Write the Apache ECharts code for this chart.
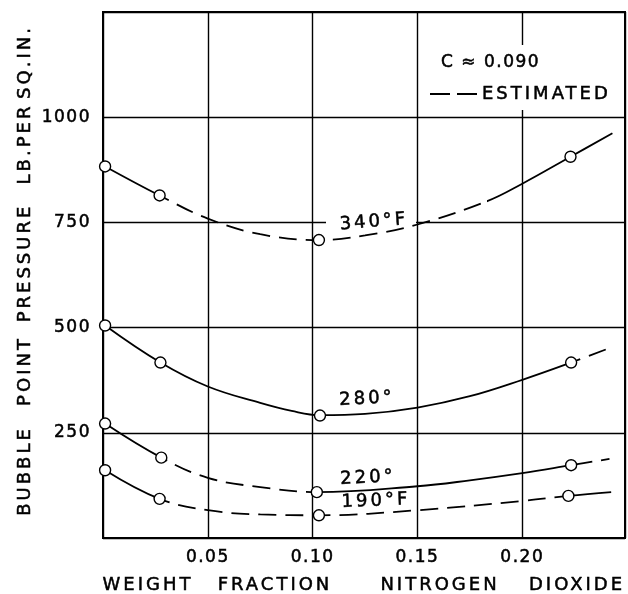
<!DOCTYPE html>
<html>
<head>
<meta charset="utf-8">
<script src="https://cdn.jsdelivr.net/npm/echarts@6/dist/echarts.min.js"></script>
<style>
  html, body { margin: 0; padding: 0; background: #fff; }
  #chart { width: 628px; height: 594px; }
</style>
</head>
<body>
<div id="chart"></div>
<script>
// tick labels
const xTicks = [0.05, 0.10, 0.15, 0.20];
const yTicks = [250, 500, 750, 1000];

// measured points (circles)
const pts340 = [[0.001, 883], [0.027, 814], [0.103, 708], [0.223, 906]];
const pts280 = [[0.001, 505], [0.0274, 417], [0.1035, 291], [0.2233, 417]];
const pts220 = [[0.001, 272], [0.0278, 191], [0.102, 109], [0.2233, 173]];
const pts190 = [[0.001, 161], [0.027, 93], [0.103, 54], [0.222, 100]];

// curves
const c340 = [[0.001, 883], [0.027, 814], [0.05, 759], [0.075, 722], [0.103, 708], [0.125, 719], [0.15, 745], [0.183, 800], [0.20, 842], [0.223, 906], [0.243, 962]];
const c280 = [[0.001, 505], [0.0274, 417], [0.05, 360], [0.075, 321], [0.09, 302], [0.1035, 292], [0.125, 295], [0.15, 310], [0.175, 337], [0.20, 376], [0.2233, 417], [0.243, 454]];
const c220 = [[0.001, 272], [0.0278, 191], [0.05, 143], [0.075, 121], [0.102, 109], [0.15, 123], [0.175, 137], [0.20, 154], [0.2233, 173], [0.2416, 188]];
const c190 = [[0.001, 161], [0.027, 93], [0.05, 66], [0.075, 56], [0.103, 54], [0.15, 66], [0.20, 88], [0.222, 100], [0.2424, 109]];

// x ranges drawn dashed (estimated)
const dash340 = [[0.027, 0.183]];
const dash280 = [[0.2233, 0.3]];
const dash220 = [[0.0278, 0.102], [0.2233, 0.3]];
const dash190 = [[0.027, 0.222]];

const FONT = '"DejaVu Sans", sans-serif';
const DASH = [18, 9];

// wider lettering, like the stencil text of the original
const proto = CanvasRenderingContext2D.prototype;
["fillText", "strokeText"].forEach(name => {
  const orig = proto[name];
  proto[name] = function (t, x, y, w) {
    this.letterSpacing = /18px/.test(this.font) ? "3px" : "1.5px";
    orig.call(this, t, x, y, w);
    this.letterSpacing = "0px";
  };
});

function solidRanges(dash) {
  const out = [];
  let from = -1;
  dash.forEach(d => { out.push([from, d[0]]); from = d[1]; });
  out.push([from, 1]);
  return out;
}

let series = [];
let visualMap = [];
function curve(data, dash) {
  [[dash, DASH], [solidRanges(dash), "solid"]].forEach(([ranges, type]) => {
    visualMap.push({
      type: "piecewise",
      show: false,
      dimension: 0,
      seriesIndex: series.length,
      pieces: ranges.map(r => ({ gte: r[0], lte: r[1], color: "#000" })),
      outOfRange: { color: "rgba(0,0,0,0)" }
    });
    series.push({
      type: "line",
      data: data,
      smooth: 0.4,
      showSymbol: false,
      silent: true,
      lineStyle: { width: 1.8, type: type },
      z: 2
    });
  });
}

function marks(data) {
  series.push({
    type: "scatter",
    data: data,
    symbol: "circle",
    symbolSize: 11,
    itemStyle: { color: "#fff", borderColor: "#000", borderWidth: 1.4, opacity: 1 },
    z: 4
  });
}

curve(c340, dash340);
curve(c280, dash280);
curve(c220, dash220);
curve(c190, dash190);
marks(pts340);
marks(pts280);
marks(pts220);
marks(pts190);

function txt(text, x, y, size, opts, align) {
  return Object.assign({
    type: "text",
    x: x,
    y: y,
    z: 10,
    style: {
      text: text,
      font: size + "px " + FONT,
      fill: "#000",
      stroke: "#000",
      lineWidth: 0.5,
      textAlign: align || "center",
      textVerticalAlign: "middle"
    }
  }, opts || {});
}

const onTick = (list, v) => list.some(t => Math.abs(t - v) < 1e-9);
const UP = { rotation: Math.PI / 2 };
const tickFont = {
  color: "#000", fontFamily: FONT, fontSize: 17,
  textBorderColor: "#000", textBorderWidth: 0.5
};

const chart = echarts.init(document.getElementById("chart"));
chart.setOption({
  animation: false,
  backgroundColor: "#fff",
  grid: {
    left: 103, right: 3, top: 12, bottom: 56,
    show: true, borderColor: "#000", borderWidth: 2
  },
  xAxis: {
    type: "value",
    min: 0, max: 0.249, interval: 0.05,
    axisLine: { lineStyle: { color: "#000", width: 2 } },
    axisTick: { show: false },
    splitLine: { lineStyle: { color: "#000", width: 1.4 } },
    axisLabel: Object.assign({
      margin: 11,
      formatter: v => onTick(xTicks, v) ? v.toFixed(2) : ""
    }, tickFont)
  },
  yAxis: {
    type: "value",
    min: 0, max: 1250, interval: 250,
    axisLine: { lineStyle: { color: "#000", width: 2 } },
    axisTick: { show: false },
    splitLine: { lineStyle: { color: "#000", width: 1.4 } },
    axisLabel: Object.assign({
      margin: 12,
      formatter: v => onTick(yTicks, v) ? String(v) : ""
    }, tickFont)
  },
  visualMap: visualMap,
  series: series,
  graphic: [
    // legend box, blanks the grid line behind it
    { type: "rect", z: 1, shape: { x: 424, y: 45, width: 192, height: 65 }, style: { fill: "#fff" } },
    txt("C ≈ 0.090", 441, 63, 17, null, "left"),
    { type: "line", z: 10, shape: { x1: 430, y1: 94, x2: 477, y2: 94 }, style: { stroke: "#000", lineWidth: 2, lineDash: [20, 7] } },
    txt("ESTIMATED", 482, 94, 18, null, "left"),

    // curve labels
    { type: "rect", z: 1, shape: { x: 326, y: 219, width: 90, height: 8 }, style: { fill: "#fff" } },
    txt("340°F", 374, 222, 18, { rotation: 0.08 }),
    txt("280°", 367, 399, 18, { rotation: 0.05 }),
    txt("220°", 368, 478, 18, { rotation: 0.05 }),
    txt("190°F", 376, 501, 18, { rotation: 0.04 }),

    // x axis title
    txt("WEIGHT", 148, 585, 18),
    txt("FRACTION", 275, 585, 18),
    txt("NITROGEN", 440, 585, 18),
    txt("DIOXIDE", 577, 585, 18),

    // y axis title
    txt("BUBBLE", 25, 471, 18, UP),
    txt("POINT", 25, 371, 18, UP),
    txt("PRESSURE", 25, 263, 18, UP),
    txt("LB.PER", 25, 144, 18, UP),
    txt("SQ.IN.", 25, 62, 18, UP)
  ]
});
window.addEventListener("resize", () => chart.resize());
</script>
</body>
</html>
